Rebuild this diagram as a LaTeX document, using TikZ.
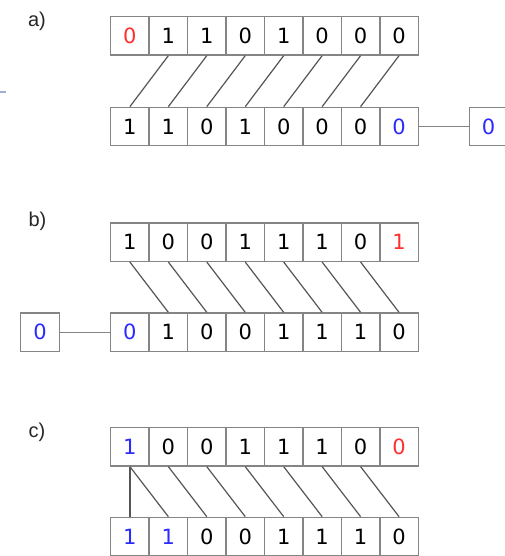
\documentclass[tikz,border=0pt]{standalone}
\usepackage{fontspec}
\setmainfont{DejaVu Sans}
\newfontfamily\tagfont{Liberation Sans}
\usetikzlibrary{positioning,calc}

\definecolor{boxgray}{HTML}{858585}
\definecolor{wiregray}{HTML}{555555}
\definecolor{bitred}{HTML}{FF3030}
\definecolor{bitblue}{HTML}{2B2BFF}
\definecolor{edgeblue}{HTML}{9CB0CC}

\tikzset{
  bit/.style={draw=boxgray, line width=1.4pt, minimum width=38.45pt,
    minimum height=38.3pt, inner sep=0pt, font=\fontsize{21}{24}\selectfont},
  wire/.style={draw=wiregray, line width=1.2pt},
  hook/.style={draw=boxgray, line width=1.4pt},
  tag/.style={font=\tagfont\fontsize{20}{23}\selectfont, text=black!85}
}

\begin{document}
\begin{tikzpicture}[x=1pt,y=-1pt]
\useasboundingbox (0,0) rectangle (505,556);

\draw[edgeblue, line width=1.5pt] (0,92) -- (6,92);

% a)

\node[tag] (la) at (37,21) {a)};

\foreach \d/\c [count=\i] in {0/bitred,1/black,1/black,0/black,1/black,0/black,0/black,0/black}
  \node[bit, text=\c] (at\i) at ($(91.45,35.8)+(\i*38.45,0)$) {\d};
\foreach \d/\c [count=\i] in {1/black,1/black,0/black,1/black,0/black,0/black,0/black,0/bitblue}
  \node[bit, text=\c] (ab\i) at ($(91.45,126.5)+(\i*38.45,0)$) {\d};
\node[bit, text=bitblue] (ax) at (488.5,126.5) {0};

\foreach \i [evaluate=\i as \j using int(\i-1)] in {2,...,8}
  \draw[wire] (at\i.south) -- (ab\j.north);
\draw[hook] (ab8.east) -- (ax.west);

% b)

\node[tag] (lb) at (37.5,221) {b)};

\foreach \d/\c [count=\i] in {1/black,0/black,0/black,1/black,1/black,1/black,0/black,1/bitred}
  \node[bit, text=\c] (bt\i) at ($(91.45,242.2)+(\i*38.45,0)$) {\d};
\foreach \d/\c [count=\i] in {0/bitblue,1/black,0/black,0/black,1/black,1/black,1/black,0/black}
  \node[bit, text=\c] (bb\i) at ($(91.45,332.2)+(\i*38.45,0)$) {\d};
\node[bit, text=bitblue] (bx) at (40,332.2) {0};

\foreach \i [evaluate=\i as \j using int(\i+1)] in {1,...,7}
  \draw[wire] (bt\i.south) -- (bb\j.north);
\draw[hook] (bx.east) -- (bb1.west);

% c)

\node[tag] (lc) at (37,432) {c)};

\foreach \d/\c [count=\i] in {1/bitblue,0/black,0/black,1/black,1/black,1/black,0/black,0/bitred}
  \node[bit, text=\c] (ct\i) at ($(91.45,446.8)+(\i*38.45,0)$) {\d};
\foreach \d/\c [count=\i] in {1/bitblue,1/bitblue,0/black,0/black,1/black,1/black,1/black,0/black}
  \node[bit, text=\c] (cb\i) at ($(91.45,536.5)+(\i*38.45,0)$) {\d};

\draw[wire] (ct1.south) -- (cb1.north);
\foreach \i [evaluate=\i as \j using int(\i+1)] in {1,...,7}
  \draw[wire] (ct\i.south) -- (cb\j.north);

\end{tikzpicture}
\end{document}
